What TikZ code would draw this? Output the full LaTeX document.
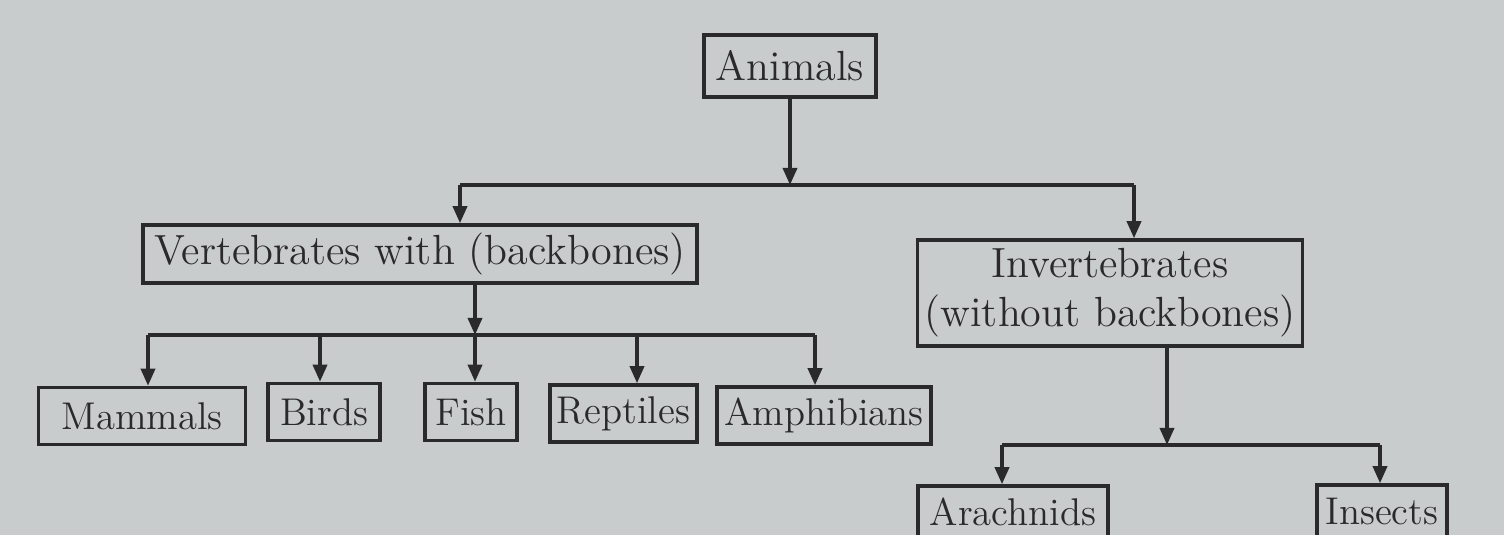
\documentclass[tikz,border=0pt]{standalone}
\usepackage{tikz}
\usetikzlibrary{arrows.meta,positioning}
\definecolor{paper}{RGB}{201,204,205}
\definecolor{ink}{RGB}{42,42,44}
\tikzset{
  box/.style={draw=ink,text=ink,line width=1pt,fill=paper,align=center,inner sep=2pt,
    minimum height=0.57cm,font=\fontsize{12}{14}\selectfont},
  leaf/.style={box,inner xsep=1.5pt,font=\fontsize{11}{13}\selectfont},
  link/.style={draw=ink,line width=1pt},
  arr/.style={link,-{Triangle[length=1.7mm,width=1.4mm]}}
}

\begin{document}
\begin{tikzpicture}
\useasboundingbox (0,0) rectangle (15.04,-5.35);
\fill[paper] (0,0) rectangle (15.04,-5.35);
% top level
\node[box,minimum width=1.72cm,minimum height=0.62cm] (animals) at (7.90,-0.66) {Animals};
\node[box,minimum width=5.54cm,minimum height=0.58cm] (vert) at (4.20,-2.54) {Vertebrates with (backbones)};
\node[box,minimum width=2.96cm,minimum height=1.06cm] (invert) at (11.10,-2.93) {Invertebrates\\(without backbones)};
% vertebrate groups
\node[leaf,minimum width=2.07cm] (mammals) at (1.42,-4.16) {Mammals};
\node[leaf,minimum width=1.12cm] (birds) at (3.24,-4.12) {Birds};
\node[leaf,minimum width=0.92cm] (fish) at (4.71,-4.12) {Fish};
\node[leaf,minimum width=1.47cm] (reptiles) at (6.235,-4.135) {Reptiles};
\node[leaf,minimum width=2.14cm] (amphib) at (8.24,-4.155) {Amphibians};
% invertebrate groups
\node[leaf,minimum width=1.90cm,minimum height=0.52cm] (arach) at (10.13,-5.12) {Arachnids};
\node[leaf,minimum width=1.30cm,minimum height=0.52cm] (insects) at (13.82,-5.11) {Insects};

% animals -> two branches
\coordinate (top) at (7.90,-1.85);
\coordinate (vl) at (4.60,-1.85);
\coordinate (vr) at (11.34,-1.85);
\draw[arr] (animals) -- (top);
\draw[link] (vl) -- (vr);
\draw[arr] (vl) -- (vl |- vert.north);
\draw[arr] (vr) -- (vr |- invert.north);

% vertebrates -> five groups
\coordinate (vs) at (4.75,-2.83);
\coordinate (vj) at (4.75,-3.35);
\coordinate (vla) at (1.48,-3.35);
\coordinate (vlb) at (8.15,-3.35);
\draw[arr] (vs) -- (vj);
\draw[link] (vla) -- (vlb);
\foreach \x/\n in {1.48/mammals,3.20/birds,4.75/fish,6.37/reptiles,8.15/amphib}{
  \coordinate (t) at (\x,-3.35);
  \draw[arr] (t) -- (t |- \n.north);
}

% invertebrates -> two groups
\coordinate (is) at (11.67,-3.46);
\coordinate (ij) at (11.67,-4.45);
\coordinate (ila) at (10.02,-4.45);
\coordinate (ilb) at (13.80,-4.45);
\draw[arr] (is) -- (ij);
\draw[link] (ila) -- (ilb);
\draw[arr] (ila) -- (ila |- arach.north);
\draw[arr] (ilb) -- (ilb |- insects.north);
\end{tikzpicture}
\end{document}
